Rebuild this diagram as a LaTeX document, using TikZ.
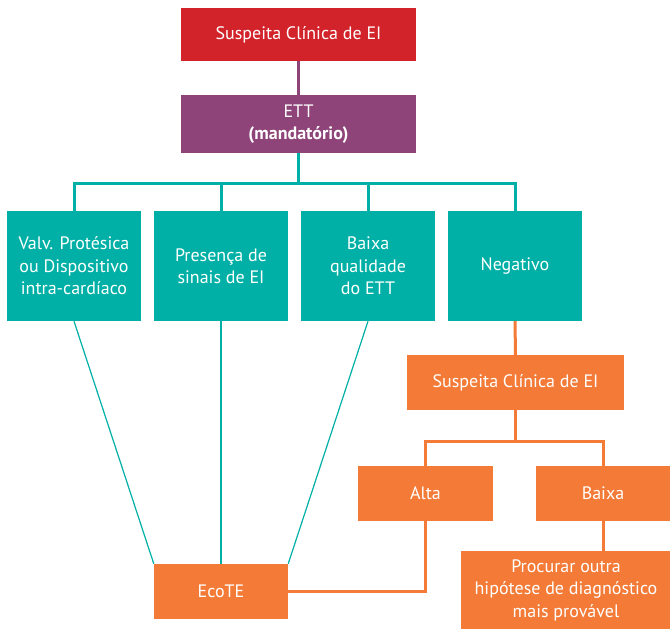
\documentclass[tikz,border=0pt]{standalone}
\usepackage{fontspec}
\setmainfont{PT Sans}
\definecolor{cred}{HTML}{D2232A}
\definecolor{cpurple}{HTML}{8E4479}
\definecolor{cteal}{HTML}{00B0A6}
\definecolor{corange}{HTML}{F37B37}
\begin{document}
\begin{tikzpicture}[x=1pt,y=-1pt,
  box/.style={rectangle, inner sep=0pt, text=white, align=center,
    font=\fontsize{18}{22.5}\selectfont},
  redbox/.style={box, fill=cred, minimum width=235pt, minimum height=53pt},
  purplebox/.style={box, fill=cpurple, minimum width=235pt, minimum height=58pt},
  tealbox/.style={box, fill=cteal, minimum width=134pt, minimum height=110pt},
  orangebox/.style={box, fill=corange, minimum width=135pt, minimum height=55pt},
  thick line/.style={line width=3pt},
  thin line/.style={line width=1.2pt, draw=cteal}]
\useasboundingbox (0,0) rectangle (670,630);
\node[redbox] (susp) at (298.5,34.5) {Suspeita Clínica de EI};
\node[purplebox] (ett) at (298.5,124) {ETT\\\textbf{(mandatório)}};
\node[tealbox] (valv) at (74,266) {Valv. Protésica\\ou Dispositivo\\intra-cardíaco};
\node[tealbox] (pres) at (221,266) {Presença de\\sinais de EI};
\node[tealbox] (baixaq) at (368,266) {Baixa\\qualidade\\do ETT};
\node[tealbox] (neg) at (515,266) {Negativo};
\node[orangebox, minimum width=217pt] (susp2) at (515.5,382.5) {Suspeita Clínica de EI};
\node[orangebox] (alta) at (425.5,493.5) {Alta};
\node[orangebox, minimum width=134pt] (baixa) at (603,493.5) {Baixa};
\node[orangebox, minimum width=210pt, minimum height=78pt] (proc) at (566,590) {Procurar outra\\hipótese de diagnóstico\\mais provável};
\node[orangebox, minimum width=134pt] (ecote) at (221,591.5) {EcoTE};
\coordinate (busT) at (298.5,183);
\coordinate (busO) at (515.5,441);
% connectors
\draw[thick line, draw=cpurple] (susp.south) -- (ett.north);
\draw[thick line, draw=cteal] (ett.south) -- (busT);
\draw[thick line, draw=cteal] (valv.north) |- (busT) -| (neg.north);
\draw[thick line, draw=cteal] (pres.north) -- (pres.north |- busT);
\draw[thick line, draw=cteal] (baixaq.north) -- (baixaq.north |- busT);
\draw[thin line] (valv.south) -- (ecote.north west);
\draw[thin line] (pres.south) -- (ecote.north);
\draw[thin line] (baixaq.south) -- (ecote.north east);
\draw[thick line, draw=corange] (neg.south) -- (susp2.north);
\draw[thick line, draw=corange] (susp2.south) -- (busO);
\draw[thick line, draw=corange] (alta.north) |- (busO) -| (baixa.north);
\draw[thick line, draw=corange] (baixa.south) -- (proc.north -| baixa.south);
\draw[thick line, draw=corange] (alta.south) |- (ecote.east);
\end{tikzpicture}
\end{document}
